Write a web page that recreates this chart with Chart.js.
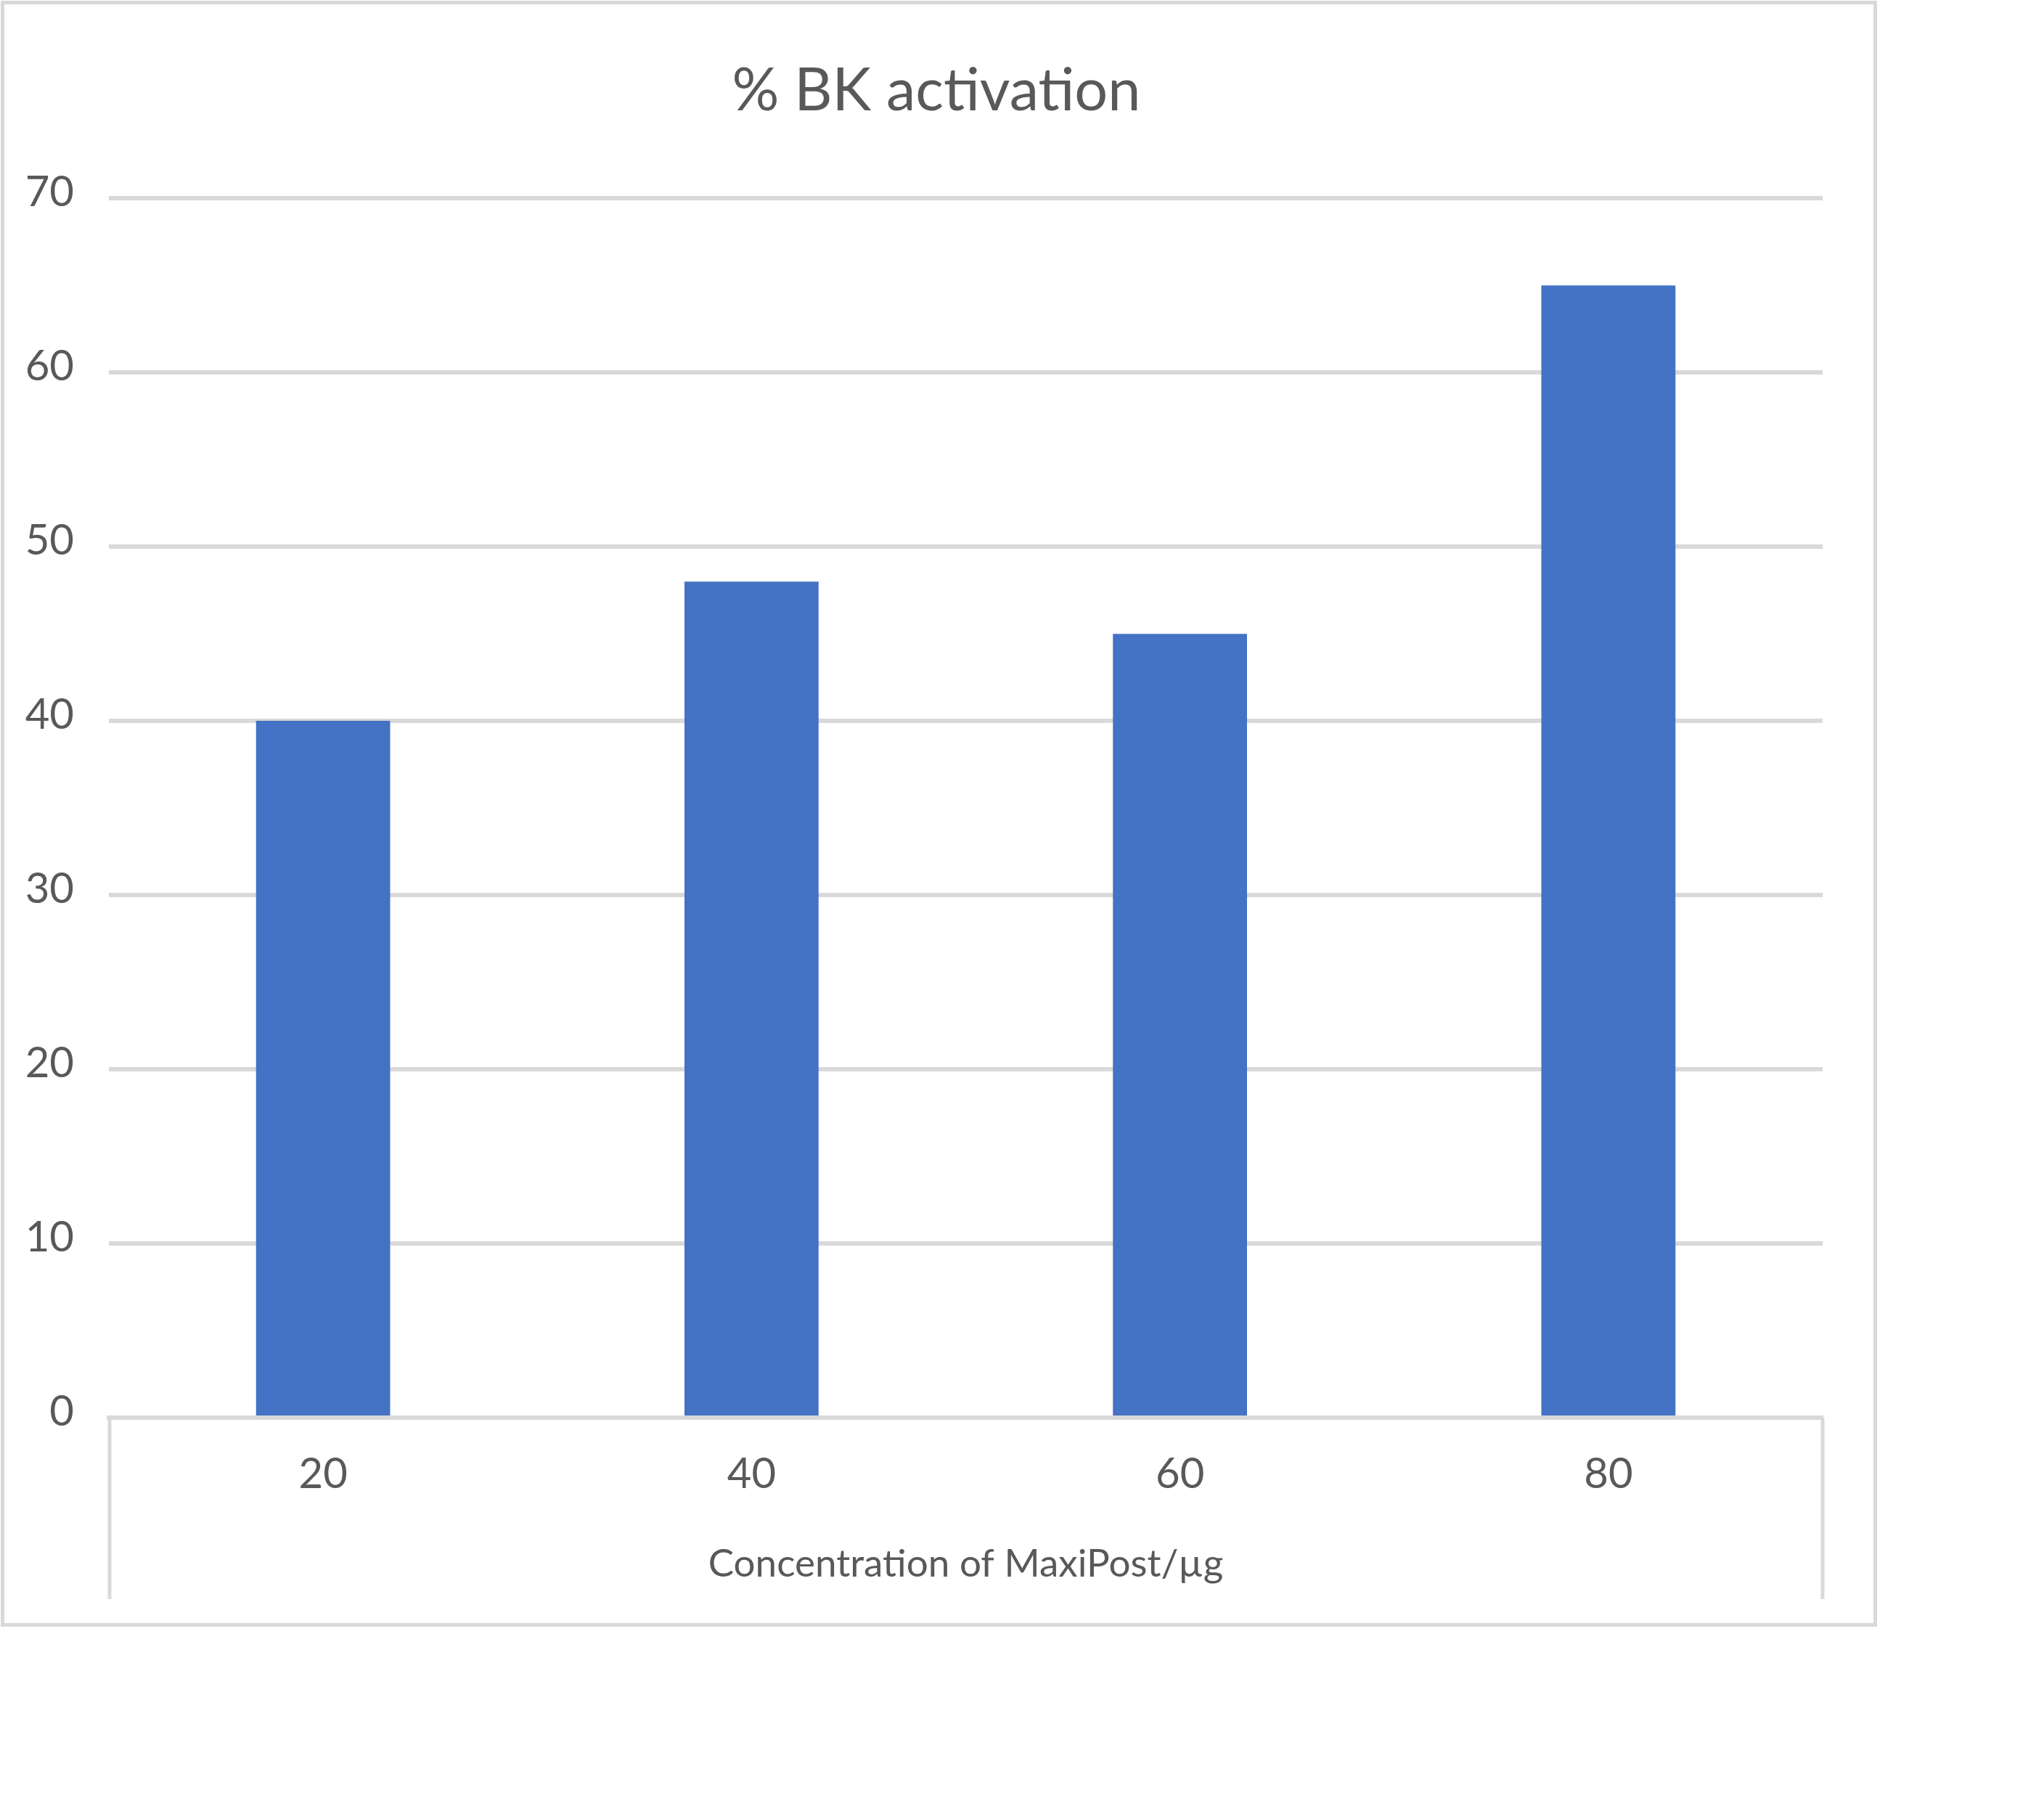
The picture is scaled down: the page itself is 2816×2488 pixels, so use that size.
<!DOCTYPE html>
<html>
<head>
<meta charset="utf-8">
<title>% BK activation</title>
<script src="https://cdn.jsdelivr.net/npm/chart.js@4.4.1/dist/chart.umd.min.js"></script>
<style>
    html, body { margin: 0; padding: 0; background: #ffffff; }
    #wrap { position: relative; width: 2816px; height: 2488px; }
    #frame {
        position: absolute; left: 1px; top: 1px;
        width: 2585px; height: 2240px;
        border: 5px solid #d9d9d9; box-sizing: border-box;
        pointer-events: none;
    }
    canvas { position: absolute; left: 0; top: 0; }
</style>
</head>
<body>
<div id="wrap">
    <canvas id="bkChart" width="2816" height="2488"></canvas>
    <div id="frame"></div>
</div>
<script>
// chart data
const concentrations = ['20', '40', '60', '80'];
const activationValues = [40, 48, 45, 65];
const yTicks = [0, 10, 20, 30, 40, 50, 60, 70];

const chartTitle = '% BK activation';
const xAxisTitle = 'Concentration of MaxiPost/\u00b5g';

const FONT = "Lato, 'Open Sans', 'Liberation Sans', sans-serif";
const TEXT_COLOR = '#595959';
const LINE_COLOR = '#d9d9d9';

// left padding keeps the title centred on the outer frame; the y scale is
// widened back to the canvas edge afterwards so its labels are not clipped
const widenYScale = {
    id: 'widenYScale',
    afterLayout(chart) {
        const y = chart.scales.y;
        y.left = 0;
        y.width = y.right - y.left;
    }
};

// Excel style divider lines under the category axis (left and right ends)
const axisEndLines = {
    id: 'axisEndLines',
    afterDraw(chart) {
        const area = chart.chartArea;
        const xScale = chart.scales.x;
        const ctx = chart.ctx;
        ctx.save();
        ctx.strokeStyle = LINE_COLOR;
        ctx.lineWidth = 5;
        [area.left + 1, area.right].forEach(function(x) {
            ctx.beginPath();
            ctx.moveTo(x, xScale.top);
            ctx.lineTo(x, xScale.bottom - 37);
            ctx.stroke();
        });
        ctx.restore();
    }
};

document.addEventListener('DOMContentLoaded', function() {
    initializeBkChart();
});

function initializeBkChart() {
    const ctx = document.getElementById('bkChart');
    if (!ctx) {
        console.error('Chart canvas not found');
        return;
    }

    return new Chart(ctx.getContext('2d'), {
        type: 'bar',
        data: {
            labels: concentrations,
            datasets: [{
                label: chartTitle,
                data: activationValues,
                backgroundColor: '#4472c4',
                borderWidth: 0,
                categoryPercentage: 1.0,
                barPercentage: 0.313
            }]
        },
        options: {
            responsive: false,
            animation: false,
            layout: {
                padding: { left: 69, right: 305, top: 0, bottom: 248 }
            },
            plugins: {
                legend: { display: false },
                tooltip: { enabled: false },
                title: {
                    display: true,
                    text: chartTitle,
                    color: TEXT_COLOR,
                    font: { family: FONT, size: 81, weight: 'normal', lineHeight: 1.2 },
                    padding: { top: 77, bottom: 99 }
                }
            },
            scales: {
                x: {
                    grid: { display: false, drawTicks: false },
                    border: { display: true, color: LINE_COLOR, width: 6, z: 1 },
                    ticks: {
                        color: TEXT_COLOR,
                        padding: 43,
                        font: { family: FONT, size: 58, lineHeight: 1.2 }
                    },
                    title: {
                        display: true,
                        text: xAxisTitle,
                        color: TEXT_COLOR,
                        font: { family: FONT, size: 53, lineHeight: 1.2 },
                        padding: { top: 0, bottom: 53 }
                    },
                    afterFit: function(scale) {
                        scale.height = 287;
                    }
                },
                y: {
                    min: yTicks[0],
                    max: yTicks[yTicks.length - 1],
                    grid: { color: LINE_COLOR, lineWidth: 6, drawTicks: false },
                    border: { display: false },
                    ticks: {
                        stepSize: yTicks[1] - yTicks[0],
                        color: TEXT_COLOR,
                        padding: 48,
                        labelOffset: -8,
                        font: { family: FONT, size: 58, lineHeight: 1.2 }
                    },
                    afterFit: function(scale) {
                        scale.width = 81;
                    }
                }
            }
        },
        plugins: [widenYScale, axisEndLines]
    });
}
</script>
</body>
</html>
